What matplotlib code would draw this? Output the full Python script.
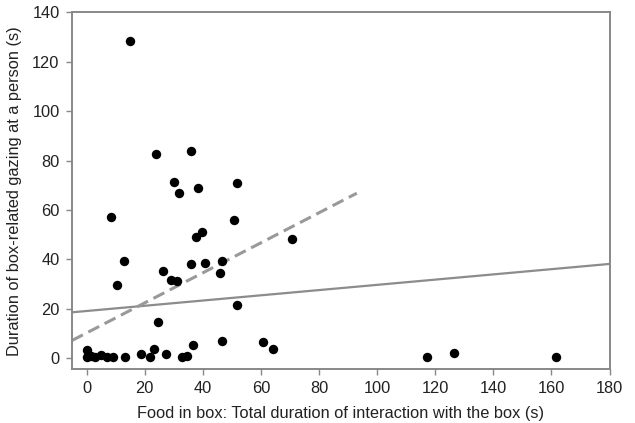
import matplotlib
matplotlib.use("Agg")
import matplotlib.pyplot as plt
import numpy as np

plt.rcParams['font.family'] = ['Liberation Sans', 'DejaVu Sans']

# interaction duration with the box (s)
interaction = [0, 0, 1.5, 3, 5, 7, 9, 13.3, 18.9, 22, 23.1, 24.6, 27.5, 32.8, 34.7, 36.6,
               46.7, 60.7, 64, 117, 126.6, 161.5,
               8.4, 10.5, 12.9, 15.1, 23.9, 26.2, 29, 30.2, 31.3, 31.7, 35.9, 35.9,
               37.6, 38.5, 39.6, 40.9, 45.9, 46.7, 50.6, 51.9, 51.9, 70.8]
# box-related gazing at a person (s)
gazing = [3, 0.3, 0.6, 0.3, 1, 0.3, 0.3, 0.5, 1.7, 0.2, 3.6, 14.6, 1.6, 0.2, 0.7, 5.1,
          6.7, 6.5, 3.8, 0.2, 2, 0.2,
          56.9, 29.4, 39.4, 128.5, 82.7, 35.2, 31.6, 71.3, 31, 66.8, 37.9, 84,
          49, 68.8, 51, 38.6, 34.5, 39.4, 55.9, 21.6, 70.7, 48.3]

# fitted lines: (intercept, slope, x range)
solid_fit = (19.0, 0.106, (-5, 180))
dashed_fit = (10.1, 0.609, (-5, 93))

fig = plt.figure(figsize=(6.35, 4.23), dpi=100)
ax = fig.add_axes([0.1134, 0.1277, 0.8466, 0.8428])

ax.scatter(interaction, gazing, s=46, color='black', zorder=3, linewidths=0)

b, m, (x0, x1) = solid_fit
xs = np.array([x0, x1])
ax.plot(xs, b + m * xs, color='#8c8c8c', linewidth=1.6, zorder=2)

b, m, (x0, x1) = dashed_fit
xs = np.array([x0, x1])
ax.plot(xs, b + m * xs, color='#999999', linewidth=2.2, linestyle=(0, (4, 2)), zorder=2)

ax.set_xlim(-5, 180)
ax.set_ylim(-4.5, 140)
ax.set_xticks(np.arange(0, 181, 20))
ax.set_yticks(np.arange(0, 141, 20))

for s in ax.spines.values():
    s.set_color('#888888')
    s.set_linewidth(1.4)
ax.tick_params(direction='out', length=4, width=1, color='#888888', labelsize=11.8,
               labelcolor='#222222', pad=5)

ax.set_xlabel('Food in box: Total duration of interaction with the box (s)', fontsize=11.8,
              color='#222222', labelpad=7)
ax.set_ylabel('Duration of box-related gazing at a person (s)', fontsize=11.8,
              color='#222222', labelpad=7)

fig.savefig('out.png', dpi=100)
